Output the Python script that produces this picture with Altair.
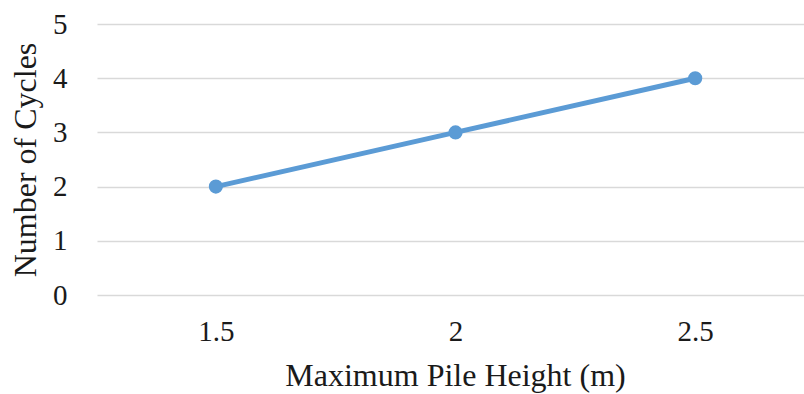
import altair as alt
import pandas as pd

# Maximum pile height (m) versus number of turning cycles
pile_height = [1.5, 2.0, 2.5]
cycles = [2, 3, 4]

df = pd.DataFrame({"height": pile_height, "cycles": cycles})

FONT = "Liberation Serif"
TEXT = "#1a1a1a"
BLUE = "#5B9BD5"

x = alt.X(
    "height:Q",
    scale=alt.Scale(domain=[1.252, 2.727], nice=False, zero=False),
    axis=alt.Axis(
        values=pile_height,
        format="~g",
        title="Maximum Pile  Height (m)",
        titleX=358,
        grid=False,
        domain=False,
        ticks=False,
        labelPadding=22,
        titlePadding=14,
    ),
)
y = alt.Y(
    "cycles:Q",
    scale=alt.Scale(domain=[0, 5], nice=False),
    axis=alt.Axis(
        values=[0, 1, 2, 3, 4, 5],
        title="Number of Cycles",
        grid=True,
        domain=False,
        ticks=False,
        labelPadding=30,
        titlePadding=10,
    ),
)

line = alt.Chart(df).mark_line(color=BLUE, strokeWidth=5).encode(x=x, y=y)
pts = alt.Chart(df).mark_point(filled=True, color=BLUE, size=200, opacity=1).encode(x=x, y=y)

chart = (
    (line + pts)
    .properties(
        width=707,
        height=271,
        autosize=alt.AutoSizeParams(type="none"),
        padding={"left": 97, "top": 24, "right": 0, "bottom": 99},
    )
    .configure_view(stroke=None)
    .configure_axis(
        labelFont=FONT,
        titleFont=FONT,
        labelFontSize=29,
        titleFontSize=32,
        labelColor=TEXT,
        titleColor=TEXT,
        titleFontWeight="normal",
        gridColor="#D9D9D9",
        gridWidth=1.5,
    )
)

chart.save("out.html", embed_options={"renderer": "svg", "actions": False})
